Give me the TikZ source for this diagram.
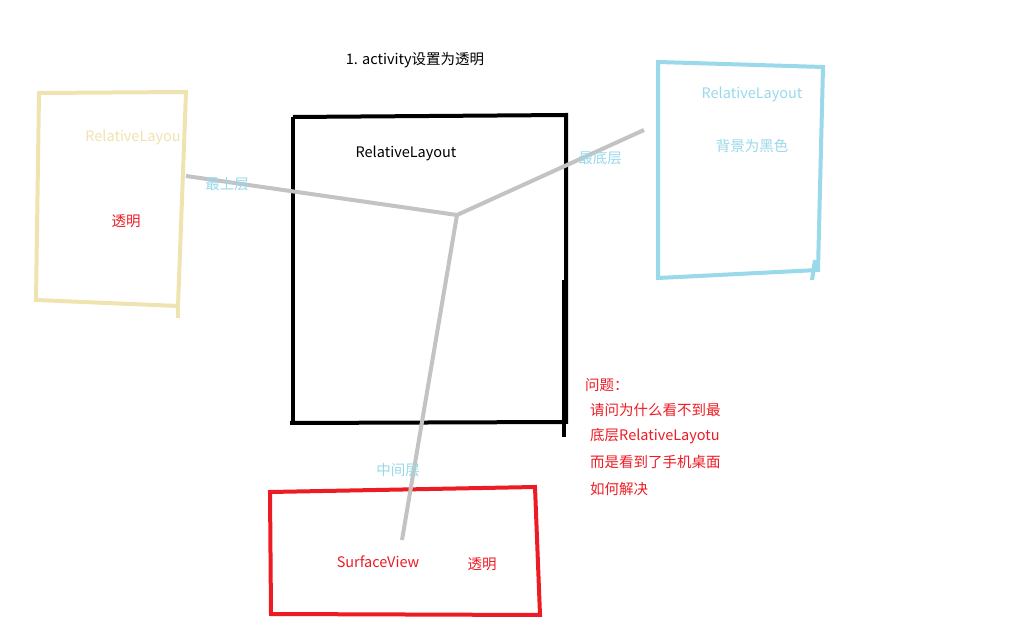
\documentclass[tikz,border=0pt]{standalone}
\usepackage{fontspec}
\setmainfont{Noto Sans CJK SC}
\definecolor{yel}{HTML}{EFE4B0}
\definecolor{blu}{HTML}{99D9EA}
\definecolor{rd}{HTML}{ED1C24}
\definecolor{gry}{HTML}{C3C3C3}
\begin{document}
\begin{tikzpicture}[x=1pt,y=-1pt,
  pen/.style={line width=4pt,line join=miter},
  lbl/.style={font=\fontsize{14.5}{16}\selectfont,inner sep=0pt},
  q/.style={lbl,anchor=west,text=rd}]
\useasboundingbox (0,0) rectangle (1031,617);
\fill[white] (0,0) rectangle (1031,617);
% boxes
\draw[pen,yel] (39,93) -- (186,92) -- (178,306) -- (36,300) -- cycle;
\draw[pen,yel] (178,300) -- (178,318);
\draw[pen,black] (293,117) -- (566,115) -- (566,422) -- (290,423);
\draw[pen,black] (293,117) -- (293,423);
\draw[pen,black] (564,280) -- (564,437);
\draw[pen,blu] (658,62) -- (823,67) -- (818,270) -- (658,278) -- cycle;
\draw[pen,blu] (815,260) -- (812,280);
\draw[pen,rd] (270,492) -- (535,487) -- (540,615) -- (271,614) -- cycle;
% grey connectors
\coordinate (c) at (457,215);
\coordinate (y) at (186,176);
\coordinate (b) at (644,130);
\coordinate (r) at (402,540);
\draw[pen,gry] (c) -- (y);
\draw[pen,gry] (c) -- (b);
\draw[pen,gry] (c) -- (r);
% texts
\node[lbl] (t1) at (415,60) {1. activity设置为透明};
\node[lbl,text=yel] (ty) at (133,137) {RelativeLayou};
\node[lbl,text=rd] (ty2) at (126,221) {透明};
\node[lbl,text=blu] (top) at (227,184) {最上层};
\node[lbl] (tk) at (406,153) {RelativeLayout};
\node[lbl,text=blu] (bot) at (600,158) {最底层};
\node[lbl,text=blu] (tb) at (752,94) {RelativeLayout};
\node[lbl,text=blu] (tb2) at (752,146) {背景为黑色};
\node[lbl,text=blu] (mid) at (398,470) {中间层};
\node[lbl,text=rd] (sv) at (378,562) {SurfaceView};
\node[lbl,text=rd] (sv2) at (482,564) {透明};
\node[q] (q1) at (585,385) {问题：};
\node[q] (q2) at (590,410) {请问为什么看不到最};
\node[q] (q3) at (590,436) {底层RelativeLayotu};
\node[q] (q4) at (590,462) {而是看到了手机桌面};
\node[q] (q5) at (590,489) {如何解决};
\end{tikzpicture}
\end{document}
